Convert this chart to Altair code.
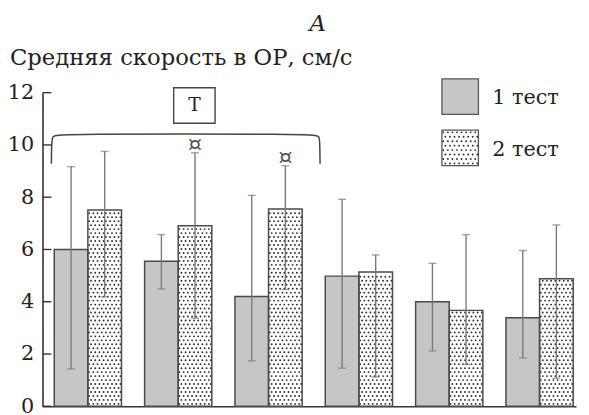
import altair as alt
import pandas as pd

# ---------------- data ----------------
groups = [0, 1, 2, 3, 4, 5]
test1_mean = [6.0, 5.55, 4.2, 4.98, 4.0, 3.39]
test1_hi = [9.17, 6.57, 8.07, 7.92, 5.47, 5.96]
test1_lo = [1.43, 4.49, 1.74, 1.46, 2.12, 1.85]
test2_mean = [7.51, 6.91, 7.55, 5.14, 3.67, 4.88]
test2_hi = [9.75, 9.7, 9.2, 5.79, 6.57, 6.94]
test2_lo = [4.19, 3.37, 4.47, 1.12, 1.6, 1.07]
test2_mark = ["", "¤", "¤", "", "", ""]
legend_labels = ["1 тест", "2 тест"]
y_ticks = [0, 2, 4, 6, 8, 10, 12]
y_title = "Средняя скорость в ОР, см/с"
panel_label = "A"
box_label = "Т"

# bracket over groups 1-3 (annotation, data units)
bracket_x = [-0.404, -0.402, -0.39, -0.36, 2.53, 2.56, 2.568, 2.57]
bracket_y = [9.28, 10.05, 10.34, 10.42, 10.42, 10.34, 10.05, 9.28]

FONT = "DejaVu Serif"
GRAY = "#c6c6c8"
EDGE = "#4a4a4a"
ERR = "#7a7a7a"
BW = 0.372  # bar width in group units

rows = []
for i in groups:
    rows.append(dict(grp=i, test=0, mean=test1_mean[i], lo=test1_lo[i], hi=test1_hi[i], mark=""))
    rows.append(dict(grp=i, test=1, mean=test2_mean[i], lo=test2_lo[i], hi=test2_hi[i], mark=test2_mark[i]))
df = pd.DataFrame(rows)
means2 = pd.DataFrame({"grp": groups, "v2": test2_mean})

xscale = alt.Scale(domain=[-0.502, 5.404], nice=False, zero=False)
yscale = alt.Scale(domain=[0, 12], nice=False, zero=True)

base = alt.Chart(df).transform_calculate(
    xa=f"datum.grp - {BW} + datum.test * {BW}",
    xb=f"datum.grp + datum.test * {BW}",
    xc=f"datum.grp - {BW}/2 + datum.test * {BW}",
)

bars = base.mark_rect(strokeWidth=0).encode(
    x=alt.X("xa:Q", scale=xscale, title=None,
            axis=alt.Axis(labels=False, ticks=False, grid=False, domainColor="#333",
                          domainWidth=1.6)),
    x2="xb:Q",
    y=alt.Y("mean:Q", scale=yscale, title=None,
            axis=alt.Axis(values=y_ticks, tickSize=0, grid=False, labelFont=FONT,
                          labelFontSize=21, labelColor="#222", labelPadding=9,
                          domainColor="#333", domainWidth=1.6)),
    y2=alt.datum(0),
    fill=alt.Fill("test:N", scale=alt.Scale(domain=[0, 1], range=[GRAY, "white"]), legend=None),
)

# dot texture of the second-test bars
C, R = 8, 50
DY = 0.152
dots = alt.Chart(alt.sequence(0, 6 * C * R, as_="k")).transform_calculate(
    grp=f"floor(datum.k / {C * R})",
    r=f"floor((datum.k % {C * R}) / {C})",
    c=f"datum.k % {C}",
).transform_calculate(
    xd=f"datum.grp + {BW} * (datum.c + 0.3 + 0.45 * (datum.r % 2)) / {C}",
    yd=f"(datum.r + 0.6) * {DY}",
).transform_lookup(
    lookup="grp", from_=alt.LookupData(data=means2, key="grp", fields=["v2"])
).transform_filter(
    "datum.yd < datum.v2 - 0.06"
).mark_circle(size=3.6, color="#2e2e2e", opacity=1).encode(
    x=alt.X("xd:Q", scale=xscale, title=None),
    y=alt.Y("yd:Q", scale=yscale, title=None),
)

outlines = base.mark_rect(fillOpacity=0, stroke=EDGE, strokeWidth=1.5).encode(
    x=alt.X("xa:Q", scale=xscale, title=None),
    x2="xb:Q",
    y=alt.Y("mean:Q", scale=yscale, title=None),
    y2=alt.datum(0),
)

err = base.mark_rule(color=ERR, strokeWidth=1.4).encode(
    x=alt.X("xc:Q", scale=xscale, title=None),
    y=alt.Y("lo:Q", scale=yscale, title=None),
    y2="hi:Q",
)
cap_hi = base.mark_tick(color=ERR, thickness=1.4, size=8, orient="horizontal").encode(
    x=alt.X("xc:Q", scale=xscale, title=None),
    y=alt.Y("hi:Q", scale=yscale, title=None),
)
cap_lo = base.mark_tick(color=ERR, thickness=1.4, size=8, orient="horizontal").encode(
    x=alt.X("xc:Q", scale=xscale, title=None),
    y=alt.Y("lo:Q", scale=yscale, title=None),
)
sig = base.mark_text(font=FONT, fontSize=23, color="#555", baseline="alphabetic", dy=-1).encode(
    x=alt.X("xc:Q", scale=xscale, title=None),
    y=alt.Y("hi:Q", scale=yscale, title=None),
    text="mark:N",
)

# y ticks pointing inward
yt = alt.Chart(pd.DataFrame({"t": y_ticks})).mark_rule(color="#333", strokeWidth=1.4).encode(
    y=alt.Y("t:Q", scale=yscale, title=None),
    x=alt.value(0), x2=alt.value(9),
)

# bracket + boxed label
brk = alt.Chart(pd.DataFrame({"bx": bracket_x, "by": bracket_y, "o": range(len(bracket_x))})).mark_line(
    color="#444", strokeWidth=1.5, interpolate="basis"
).encode(
    x=alt.X("bx:Q", scale=xscale, title=None),
    y=alt.Y("by:Q", scale=yscale, title=None),
    order="o:Q",
)
box_df = pd.DataFrame({"x0": [0.95], "x1": [1.408], "y0": [10.83], "y1": [12.19],
                       "xm": [1.179], "ym": [11.51], "lab": [box_label]})
box = alt.Chart(box_df).mark_rect(fill="white", stroke="#444", strokeWidth=1.4).encode(
    x=alt.X("x0:Q", scale=xscale, title=None), x2="x1:Q",
    y=alt.Y("y0:Q", scale=yscale, title=None), y2="y1:Q",
)
box_t = alt.Chart(box_df).mark_text(font=FONT, fontSize=19, color="#222", baseline="middle").encode(
    x=alt.X("xm:Q", scale=xscale, title=None),
    y=alt.Y("ym:Q", scale=yscale, title=None),
    text="lab:N",
)

# panel letter and the y-axis caption (written horizontally above the axis)
letter = alt.Chart(pd.DataFrame({"l": [panel_label]})).mark_text(
    font=FONT, fontSize=23, fontStyle="italic", color="#222", baseline="middle"
).encode(x=alt.value(279), y=alt.value(-70), text="l:N")
caption = alt.Chart(pd.DataFrame({"l": [y_title]})).mark_text(
    font=FONT, fontSize=23, color="#222", align="left", baseline="alphabetic"
).encode(x=alt.value(-33), y=alt.value(-28), text="l:N")

# legend (manual, so the dotted swatch can show its texture)
leg_df = pd.DataFrame({"lab": legend_labels, "test": [0, 1], "y0": [-14, 38], "y1": [22, 74],
                       "ty": [12, 64]})
leg_rect = alt.Chart(leg_df).mark_rect(stroke="#555", strokeWidth=1.3).encode(
    x=alt.value(405), x2=alt.value(442),
    y=alt.Y("y0:Q", scale=None), y2="y1:Q",
    fill=alt.Fill("test:N", scale=alt.Scale(domain=[0, 1], range=[GRAY, "white"]), legend=None),
)
LC, LR = 8, 8
leg_dots = alt.Chart(alt.sequence(0, LC * LR, as_="k")).transform_calculate(
    r=f"floor(datum.k / {LC})", c=f"datum.k % {LC}",
).transform_calculate(
    lx=f"405 + 37 * (datum.c + 0.3 + 0.45 * (datum.r % 2)) / {LC}",
    ly=f"38 + 36 * (datum.r + 0.5) / {LR}",
).mark_circle(size=3.6, color="#2e2e2e", opacity=1).encode(
    x=alt.X("lx:Q", scale=None), y=alt.Y("ly:Q", scale=None),
)
leg_text = alt.Chart(leg_df).mark_text(font=FONT, fontSize=21, color="#222", align="left",
                                       baseline="alphabetic").encode(
    x=alt.value(456), y=alt.Y("ty:Q", scale=None), text="lab:N",
)

chart = alt.layer(
    bars, dots, outlines, err, cap_hi, cap_lo, sig, yt, brk, box, box_t, letter, caption,
    leg_rect, leg_dots, leg_text,
).properties(
    width=541, height=318,
    autosize=alt.AutoSizeParams(type="none"),
    padding={"left": 35, "top": 83, "right": 5, "bottom": 6},
).configure_view(stroke=None)

chart.save("out.html", embed_options={"renderer": "svg", "actions": False})
